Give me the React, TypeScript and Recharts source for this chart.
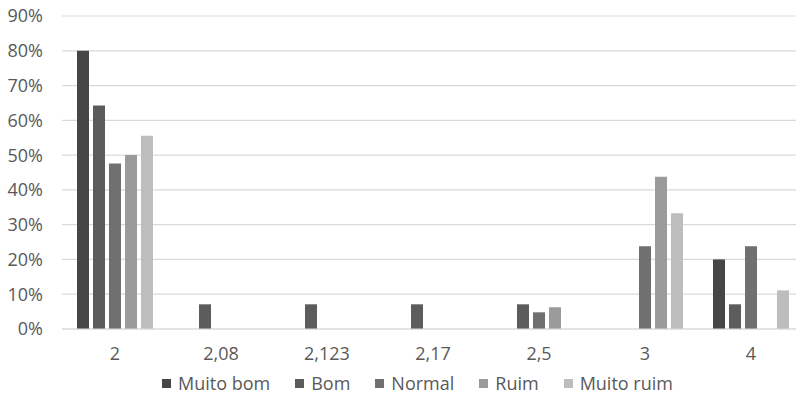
import React from 'react';
import { BarChart, Bar, XAxis, YAxis, CartesianGrid, Legend } from 'recharts';

// Categories on the horizontal axis
const categories = ['2', '2,08', '2,123', '2,17', '2,5', '3', '4'];

// Share of responses (%) per rating
const muitoBom = [80, 0, 0, 0, 0, 0, 20];
const bom = [64.3, 7.1, 7.1, 7.1, 7.1, 0, 7.1];
const normal = [47.6, 0, 0, 0, 4.8, 23.8, 23.8];
const ruim = [50, 0, 0, 0, 6.25, 43.75, 0];
const muitoRuim = [55.6, 0, 0, 0, 0, 33.3, 11.1];

const yTicks = [0, 10, 20, 30, 40, 50, 60, 70, 80, 90];

const seriesNames = ['Muito bom', 'Bom', 'Normal', 'Ruim', 'Muito ruim'];
const seriesKeys = ['muitoBom', 'bom', 'normal', 'ruim', 'muitoRuim'];
const seriesColors = ['#464646', '#5c5c5c', '#707070', '#9b9b9b', '#bdbdbd'];

const data = categories.map((c, i) => ({
  category: c,
  muitoBom: muitoBom[i],
  bom: bom[i],
  normal: normal[i],
  ruim: ruim[i],
  muitoRuim: muitoRuim[i],
}));

const FONT = '"Open Sans", sans-serif';
const TEXT = '#595959';

const LegendContent = () => (
  <div
    style={{
      height: 40,
      display: 'flex',
      alignItems: 'flex-start',
      paddingLeft: 162,
      boxSizing: 'border-box',
      fontFamily: FONT,
      fontSize: 18,
      color: TEXT,
    }}
  >
    {seriesNames.map((name, i) => (
      <div
        key={name}
        style={{
          display: 'flex',
          alignItems: 'center',
          height: 28,
          marginRight: i < seriesNames.length - 1 ? 25 : 0,
        }}
      >
        <span
          style={{
            display: 'inline-block',
            width: 9,
            height: 9,
            background: seriesColors[i],
            marginRight: 7,
          }}
        />
        <span style={{ lineHeight: '28px', whiteSpace: 'nowrap' }}>{name}</span>
      </div>
    ))}
  </div>
);

export default function App() {
  return (
    <div
      style={{
        position: 'absolute',
        left: 0,
        top: 0,
        width: 796,
        height: 409,
        overflow: 'hidden',
        background: '#ffffff',
      }}
    >
      <BarChart
        width={804}
        height={409}
        data={data}
        margin={{ top: 16, right: 0, bottom: 0, left: 0 }}
        barSize={12}
        barGap={4}
      >
        <CartesianGrid vertical={false} stroke="#d9d9d9" strokeWidth={1.2} />
        <XAxis
          dataKey="category"
          height={40}
          axisLine={{ stroke: '#d9d9d9', strokeWidth: 1.2 }}
          tickLine={false}
          tickSize={0}
          tickMargin={18}
          tick={{ fill: TEXT, fontSize: 18, fontFamily: FONT }}
          interval={0}
        />
        <YAxis
          width={62}
          domain={[0, 90]}
          ticks={yTicks}
          axisLine={false}
          tickLine={false}
          tickSize={0}
          tickMargin={19}
          tickFormatter={(v: number) => `${v}%`}
          tick={{ fill: TEXT, fontSize: 18, fontFamily: FONT }}
        />
        <Legend
          verticalAlign="bottom"
          content={<LegendContent />}
          wrapperStyle={{ left: 0, width: 804 }}
        />
        {seriesKeys.map((k, i) => (
          <Bar
            key={k}
            dataKey={k}
            name={seriesNames[i]}
            fill={seriesColors[i]}
            isAnimationActive={false}
          />
        ))}
      </BarChart>
    </div>
  );
}
